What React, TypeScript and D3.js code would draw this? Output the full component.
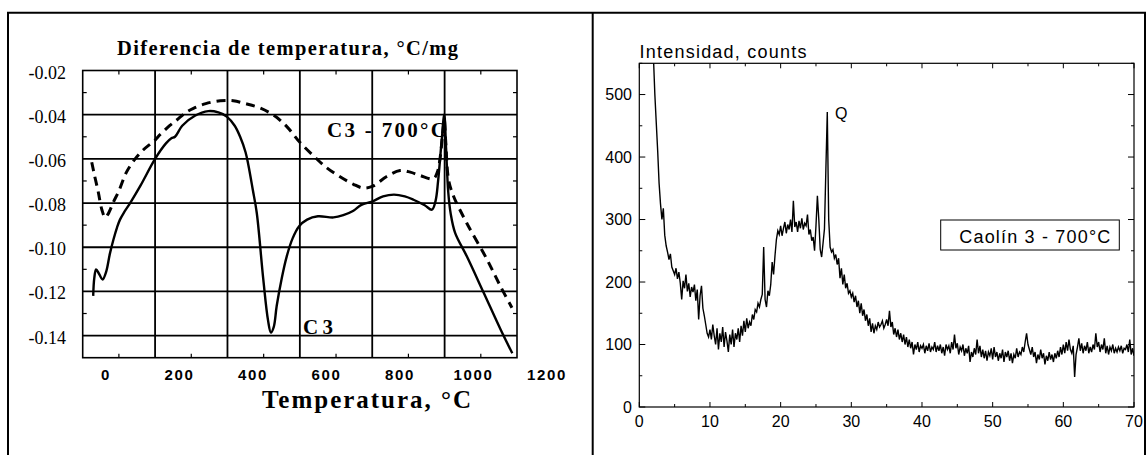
import React from 'react';
import * as d3 from 'd3';

// ---------- Left chart: DTA curves ----------
const dtaSolidT = [-71, -68, -63, -55, -45, -35, -25, -15, -5, 3, 15, 31, 60, 100, 130, 145, 155, 175, 210, 247, 275, 298, 320, 335, 350, 358, 370, 381, 399, 412, 420, 428, 436, 450, 464, 480, 498, 520, 550, 593, 620, 648, 670, 700, 730, 760, 790, 814, 845, 865, 875, 882, 892, 899, 904, 910, 917, 929, 961, 1008, 1054, 1087];
const dtaSolidV = [-0.122, -0.114, -0.110, -0.112, -0.1146, -0.111, -0.103, -0.0965, -0.091, -0.0875, -0.084, -0.080, -0.072, -0.060, -0.053, -0.0507, -0.050, -0.045, -0.0405, -0.0384, -0.039, -0.0409, -0.045, -0.050, -0.057, -0.063, -0.074, -0.0845, -0.1146, -0.133, -0.1386, -0.136, -0.1266, -0.114, -0.104, -0.096, -0.0905, -0.0875, -0.086, -0.0865, -0.0855, -0.0835, -0.0808, -0.0793, -0.077, -0.0762, -0.077, -0.0785, -0.081, -0.083, -0.079, -0.070, -0.0514, -0.040, -0.055, -0.075, -0.085, -0.0935, -0.104, -0.1206, -0.137, -0.148];

const dtaDashT = [-75, -68, -57, -47, -38, -30, -15, 0, 21, 45, 67, 100, 114, 140, 160, 185, 206, 240, 280, 316, 350, 390, 430, 464, 500, 540, 574, 610, 648, 675, 700, 740, 777, 805, 832, 869, 880, 888, 895, 899, 903, 911, 925, 961, 1017, 1054, 1086];
const dtaDashV = [-0.0615, -0.067, -0.075, -0.083, -0.0865, -0.085, -0.0795, -0.0745, -0.066, -0.060, -0.056, -0.0515, -0.049, -0.045, -0.0424, -0.039, -0.0371, -0.035, -0.0337, -0.0337, -0.035, -0.037, -0.0405, -0.0454, -0.0525, -0.059, -0.064, -0.068, -0.0715, -0.0732, -0.0725, -0.068, -0.0653, -0.066, -0.0675, -0.069, -0.066, -0.059, -0.048, -0.0424, -0.052, -0.0695, -0.077, -0.089, -0.1055, -0.1176, -0.1274];

const leftYTicks = [-0.02, -0.04, -0.06, -0.08, -0.10, -0.12, -0.14];
const leftYLabels = ['-0.02', '-0.04', '-0.06', '-0.08', '-0.10', '-0.12', '-0.14'];
const leftYMinor = [-0.03, -0.05, -0.07, -0.09, -0.11, -0.13];
const leftXGrid = [100, 300, 500, 700, 900];
const leftXTicks = [0, 200, 400, 600, 800, 1000];
const leftXLabels = [0, 200, 400, 600, 800, 1000, 1200];

// ---------- Right chart: XRD pattern ----------
const xrdStart = 2.0;
const xrdStep = 0.2;
const xrdCounts = [
  560, 500, 455, 410, 358, 325, 300, 318, 275, 258,
  248, 236, 245, 224, 218, 212, 222, 205, 216, 198,
  172, 202, 190, 212, 185, 198, 176, 192, 184, 196,
  170, 188, 140, 178, 194, 158, 146, 132, 118, 112,
  124, 108, 132, 114, 100, 126, 92, 118, 104, 128,
  96, 120, 106, 88, 116, 100, 124, 96, 118, 108,
  126, 104, 130, 114, 138, 120, 142, 126, 136, 130,
  148, 140, 156, 152, 166, 160, 172, 180, 256, 172,
  160, 186, 178, 196, 232, 212, 242, 268, 282, 276,
  290, 274, 286, 296, 278, 292, 284, 300, 280, 330,
  288, 296, 280, 298, 286, 302, 284, 294, 290, 308,
  276, 284, 266, 272, 250, 290, 338, 300, 252, 240,
  262, 285, 380, 472, 300, 256, 248, 252, 238, 244,
  228, 238, 206, 222, 196, 212, 190, 198, 182, 186,
  176, 182, 168, 178, 160, 170, 150, 166, 146, 156,
  138, 148, 130, 142, 120, 134, 118, 130, 124, 136,
  128, 132, 138, 126, 132, 140, 130, 154, 128, 136,
  116, 126, 112, 124, 108, 118, 104, 116, 100, 112,
  96, 108, 94, 104, 84, 100, 92, 104, 88, 98,
  94, 100, 86, 98, 90, 102, 88, 96, 92, 104,
  88, 98, 90, 100, 86, 96, 82, 100, 92, 98,
  86, 104, 92, 116, 94, 102, 84, 96, 90, 100,
  82, 94, 86, 98, 72, 88, 80, 94, 84, 108,
  86, 98, 80, 92, 78, 90, 74, 88, 82, 94,
  76, 96, 80, 88, 74, 86, 78, 92, 72, 88,
  80, 90, 74, 86, 70, 84, 78, 94, 80, 88,
  84, 96, 88, 104, 118, 100, 92, 84, 96, 80,
  88, 70, 84, 76, 92, 78, 86, 68, 82, 74,
  88, 76, 84, 72, 86, 78, 90, 80, 96, 84,
  100, 86, 104, 90, 108, 92, 86, 98, 48, 84,
  96, 110, 90, 102, 86, 98, 90, 104, 86, 96,
  88, 100, 92, 118, 96, 104, 88, 100, 92, 110,
  86, 98, 84, 96, 90, 100, 86, 94, 88, 96,
  90, 98, 86, 94, 92, 100, 88, 108, 84, 94,
  82,
];
const rightYMajor = [0, 100, 200, 300, 400, 500];
const rightYMinor = [50, 150, 250, 350, 450, 550];
const rightXMajor = [0, 10, 20, 30, 40, 50, 60, 70];
const rightXMinor = [5, 15, 25, 35, 45, 55, 65];

const SERIF = "'Liberation Serif', 'Times New Roman', serif";
const SANS = "'Liberation Sans', Arial, sans-serif";

export default function App() {
  const xL = d3.scaleLinear().domain([-100, 1100]).range([82.7, 517]);
  const yL = d3.scaleLinear().domain([-0.15, -0.02]).range([357.7, 70.5]);
  const xLab = d3.scaleLinear().domain([0, 1200]).range([106, 547]);

  const solidPts: [number, number][] = dtaSolidT.map((t, i) => [t, dtaSolidV[i]]);
  const dashPts: [number, number][] = dtaDashT.map((t, i) => [t, dtaDashV[i]]);
  const lineL = d3
    .line<[number, number]>()
    .x((d) => xL(d[0]))
    .y((d) => yL(d[1]))
    .curve(d3.curveCatmullRom.alpha(0.5));

  const xR = d3.scaleLinear().domain([0, 70]).range([639.3, 1134]);
  const yR = d3.scaleLinear().domain([0, 550]).range([407, 63.3]);
  const xrdPts: [number, number][] = xrdCounts.map((c, i) => [xrdStart + i * xrdStep, c]);
  const lineR = d3
    .line<[number, number]>()
    .x((d) => xR(d[0]))
    .y((d) => yR(d[1]));

  const [lx0, lx1] = xL.range();
  const ly0 = yL(-0.02);
  const ly1 = yL(-0.15);
  const [rx0, rx1] = xR.range();
  const ry0 = yR(550);
  const ry1 = yR(0);

  return (
    <svg
      width={1147}
      height={455}
      style={{ position: 'absolute', left: 0, top: 0, display: 'block', background: '#fff' }}
    >
      <rect x={0} y={0} width={1147} height={455} fill="#fff" />
      {/* outer frame */}
      <g stroke="#000" fill="none">
        <line x1={7} x2={1146} y1={12.7} y2={12.7} strokeWidth={2} />
        <line x1={8} x2={8} y1={12} y2={455} strokeWidth={2} />
        <line x1={592.7} x2={592.7} y1={12} y2={455} strokeWidth={2} />
        <line x1={1145} x2={1145} y1={12} y2={455} strokeWidth={2} />
      </g>

      {/* ---------- Left chart ---------- */}
      <text
        x={117}
        y={55}
        fontFamily={SERIF}
        fontWeight="bold"
        fontSize={20.5}
        textLength={341}
        lengthAdjust="spacing"
      >
        Diferencia de temperatura, °C/mg
      </text>
      <g stroke="#000" strokeWidth={1.8}>
        {leftYTicks.slice(1).map((v) => (
          <line key={'hg' + v} x1={lx0} x2={lx1} y1={yL(v)} y2={yL(v)} />
        ))}
        {leftXGrid.map((v) => (
          <line key={'vg' + v} x1={xL(v)} x2={xL(v)} y1={ly0} y2={ly1} />
        ))}
      </g>
      <g stroke="#000" strokeWidth={1.2}>
        {leftYMinor.map((v) => (
          <g key={'ym' + v}>
            <line x1={lx0} x2={lx0 + 4} y1={yL(v)} y2={yL(v)} />
            <line x1={lx1} x2={lx1 - 4} y1={yL(v)} y2={yL(v)} />
          </g>
        ))}
        {leftXTicks.map((v) => (
          <g key={'xt' + v}>
            <line x1={xL(v)} x2={xL(v)} y1={ly1} y2={ly1 - 4} />
            <line x1={xL(v)} x2={xL(v)} y1={ly0} y2={ly0 + 4} />
          </g>
        ))}
      </g>
      <rect x={lx0} y={ly0} width={lx1 - lx0} height={ly1 - ly0} fill="none" stroke="#000" strokeWidth={1.6} />
      {leftYTicks.map((v, i) => (
        <text
          key={'yl' + v}
          x={66}
          y={yL(v) + 2}
          textAnchor="end"
          dominantBaseline="central"
          fontFamily={SERIF}
          fontSize={18}
        >
          {leftYLabels[i]}
        </text>
      ))}
      {leftXLabels.map((v) => (
        <text
          key={'xl' + v}
          x={xLab(v)}
          y={380}
          textAnchor="middle"
          fontFamily={SANS}
          fontWeight="bold"
          fontSize={15}
          letterSpacing={1.6}
        >
          {v}
        </text>
      ))}
      <text
        x={262}
        y={408}
        fontFamily={SERIF}
        fontWeight="bold"
        fontSize={25}
        textLength={209}
        lengthAdjust="spacing"
      >
        Temperatura, °C
      </text>
      <path d={lineL(dashPts) || ''} fill="none" stroke="#000" strokeWidth={3} strokeDasharray="9,6" />
      <path d={lineL(solidPts) || ''} fill="none" stroke="#000" strokeWidth={2.4} />
      <text x={327} y={136.5} fontFamily={SERIF} fontWeight="bold" fontSize={21} textLength={119} lengthAdjust="spacing">
        C3 - 700°C
      </text>
      <text x={303} y={333.5} fontFamily={SERIF} fontWeight="bold" fontSize={21} textLength={30} lengthAdjust="spacing">
        C3
      </text>

      {/* ---------- Right chart ---------- */}
      <defs>
        <clipPath id="xrdClip">
          <rect x={rx0} y={ry0} width={rx1 - rx0} height={ry1 - ry0 + 2} />
        </clipPath>
      </defs>
      <text x={639.5} y={58} fontFamily={SANS} fontSize={18} textLength={167} lengthAdjust="spacing">
        Intensidad, counts
      </text>
      <g stroke="#000" strokeWidth={1}>
        {rightYMajor.map((v) => (
          <g key={'rym' + v}>
            <line x1={rx0} x2={rx0 + 6} y1={yR(v)} y2={yR(v)} />
            <line x1={rx1} x2={rx1 - 6} y1={yR(v)} y2={yR(v)} />
          </g>
        ))}
        {rightYMinor.map((v) => (
          <g key={'ryn' + v}>
            <line x1={rx0} x2={rx0 + 3} y1={yR(v)} y2={yR(v)} />
            <line x1={rx1} x2={rx1 - 3} y1={yR(v)} y2={yR(v)} />
          </g>
        ))}
        {rightXMajor.map((v) => (
          <g key={'rxm' + v}>
            <line x1={xR(v)} x2={xR(v)} y1={ry1} y2={ry1 - 5} />
            <line x1={xR(v)} x2={xR(v)} y1={ry0} y2={ry0 + 5} />
          </g>
        ))}
        {rightXMinor.map((v) => (
          <g key={'rxn' + v}>
            <line x1={xR(v)} x2={xR(v)} y1={ry1} y2={ry1 - 3} />
            <line x1={xR(v)} x2={xR(v)} y1={ry0} y2={ry0 + 3} />
          </g>
        ))}
      </g>
      <rect x={rx0} y={ry0} width={rx1 - rx0} height={ry1 - ry0} fill="none" stroke="#000" strokeWidth={1.2} />
      {rightYMajor.map((v) => (
        <text
          key={'ryl' + v}
          x={632}
          y={yR(v)}
          textAnchor="end"
          dominantBaseline="central"
          fontFamily={SANS}
          fontSize={16}
        >
          {v}
        </text>
      ))}
      {rightXMajor.map((v) => (
        <text key={'rxl' + v} x={xR(v)} y={427} textAnchor="middle" fontFamily={SANS} fontSize={16}>
          {v}
        </text>
      ))}
      <path d={lineR(xrdPts) || ''} fill="none" stroke="#000" strokeWidth={1.4} clipPath="url(#xrdClip)" />
      <text x={835} y={118.5} fontFamily={SANS} fontSize={16}>
        Q
      </text>
      <rect x={940.7} y={220} width={178.6} height={30} fill="#fff" stroke="#000" strokeWidth={1} />
      <text x={959.3} y={243.3} fontFamily={SANS} fontSize={18} textLength={151} lengthAdjust="spacing">
        Caolín 3 - 700°C
      </text>
    </svg>
  );
}
